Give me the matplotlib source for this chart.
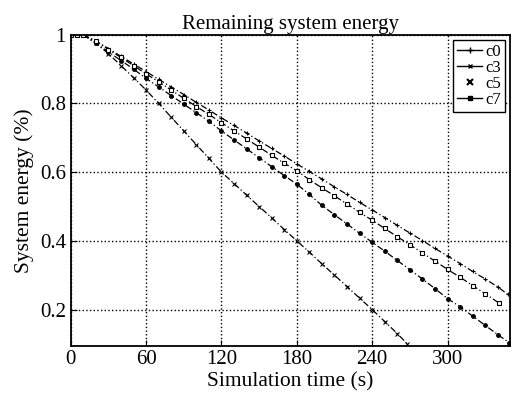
import matplotlib.pyplot as plt
from matplotlib.lines import Line2D

plt.rcParams['font.family'] = ['Liberation Serif', 'DejaVu Serif']

# (time in s, remaining energy fraction)
t_c0 = [0, 5, 10, 20, 30, 40, 50, 60, 70, 80, 90, 100, 110, 120, 130, 140, 150, 160, 170,
        180, 190, 200, 210, 220, 230, 240, 250, 260, 270, 280, 290, 300, 310, 320, 330, 340, 348]
e_c0 = [1.0, 1.0, 1.0, 0.982, 0.96, 0.937, 0.915, 0.893, 0.87, 0.848, 0.826, 0.803, 0.781, 0.758,
        0.736, 0.714, 0.691, 0.669, 0.647, 0.624, 0.602, 0.58, 0.557, 0.535, 0.512, 0.49, 0.468,
        0.445, 0.423, 0.401, 0.378, 0.356, 0.334, 0.311, 0.289, 0.266, 0.244]

t_c3 = [0, 5, 10, 20, 30, 40, 50, 60, 70, 80, 90, 100, 110, 120, 130, 140, 150, 160, 170,
        180, 190, 200, 210, 220, 230, 240, 250, 260, 268]
e_c3 = [1.0, 1.0, 1.0, 0.975, 0.945, 0.91, 0.875, 0.839, 0.80, 0.76, 0.72, 0.68, 0.64, 0.60,
        0.567, 0.533, 0.50, 0.467, 0.433, 0.40, 0.367, 0.333, 0.30, 0.267, 0.233, 0.20, 0.165,
        0.13, 0.10]

t_c5 = [0, 5, 10, 20, 30, 40, 50, 60, 70, 80, 90, 100, 110, 120, 130, 140, 150, 160, 170,
        180, 190, 200, 210, 220, 230, 240, 250, 260, 270, 280, 290, 300, 310, 320, 330, 340, 349]
e_c5 = [1.0, 1.0, 1.0, 0.975, 0.95, 0.925, 0.9, 0.873, 0.848, 0.823, 0.798, 0.773, 0.748, 0.72,
        0.694, 0.668, 0.642, 0.616, 0.59, 0.565, 0.535, 0.503, 0.476, 0.449, 0.422, 0.396, 0.37,
        0.343, 0.316, 0.289, 0.261, 0.232, 0.208, 0.181, 0.154, 0.127, 0.104]

t_c7 = [0, 5, 10, 20, 30, 40, 50, 60, 70, 80, 90, 100, 110, 120, 130, 140, 150, 160, 170,
        180, 190, 200, 210, 220, 230, 240, 250, 260, 270, 280, 290, 300, 310, 320, 330, 341]
e_c7 = [1.0, 1.0, 1.0, 0.981, 0.957, 0.934, 0.91, 0.886, 0.863, 0.839, 0.815, 0.791, 0.768, 0.744,
        0.72, 0.697, 0.673, 0.649, 0.626, 0.604, 0.578, 0.554, 0.531, 0.507, 0.483, 0.46, 0.436,
        0.412, 0.389, 0.365, 0.341, 0.317, 0.294, 0.27, 0.246, 0.219]

xticks = [0, 60, 120, 180, 240, 300]
yticks = [0.2, 0.4, 0.6, 0.8, 1.0]
ytick_labels = ['0.2', '0.4', '0.6', '0.8', '1']

fig = plt.figure(figsize=(5.17, 4.0), dpi=100)
ax = fig.add_axes([0.137, 0.136, 0.850, 0.777])

dd = (5, 2, 1, 2)  # short dash-dot like the matlab export
ax.plot(t_c0, e_c0, 'k', dashes=dd, marker='+', ms=3.5, mew=0.8, lw=0.9)
ax.plot(t_c3, e_c3, 'k', dashes=dd, marker='x', ms=2.5, mew=0.8, lw=0.9)
ax.plot(t_c5, e_c5, 'k', dashes=dd, marker='o', ms=2.5, lw=0.9)
ax.plot(t_c7, e_c7, 'k', dashes=dd, marker='s', ms=2.5, mfc='white', mew=0.8, lw=0.9)

ax.set_xlim(0, 350)
ax.set_ylim(0.095, 1.0)
ax.set_xticks(xticks)
ax.set_yticks(yticks)
ax.set_yticklabels(ytick_labels)
ax.grid(True, color='k', linestyle=':', linewidth=1.0)
ax.tick_params(direction='in', length=4, labelsize=15, colors='k')
for s in ax.spines.values():
    s.set_linewidth(1.3)

ax.set_xlabel('Simulation time (s)', fontsize=15.5, labelpad=2)
ax.set_ylabel('System energy (%)', fontsize=15.5, labelpad=4)
ax.set_title('Remaining system energy', fontsize=15, pad=4)

handles = [
    Line2D([], [], color='k', ls='-', marker='+', ms=5, lw=1),
    Line2D([], [], color='k', ls='-', marker='x', ms=3, lw=1),
    Line2D([], [], color='k', ls='none', marker='x', ms=4, mew=1.5),
    Line2D([], [], color='k', ls='-', marker='s', ms=3, lw=1),
]
leg = ax.legend(handles, ['c0', 'c3', 'c5', 'c7'], loc='upper right', fontsize=12,
                handlelength=1.5, handletextpad=0.2, labelspacing=0.0, borderpad=0.25,
                borderaxespad=0.3, fancybox=False, framealpha=1, edgecolor='k')
leg.get_frame().set_linewidth(1.0)

fig.savefig('out.png', dpi=100)
